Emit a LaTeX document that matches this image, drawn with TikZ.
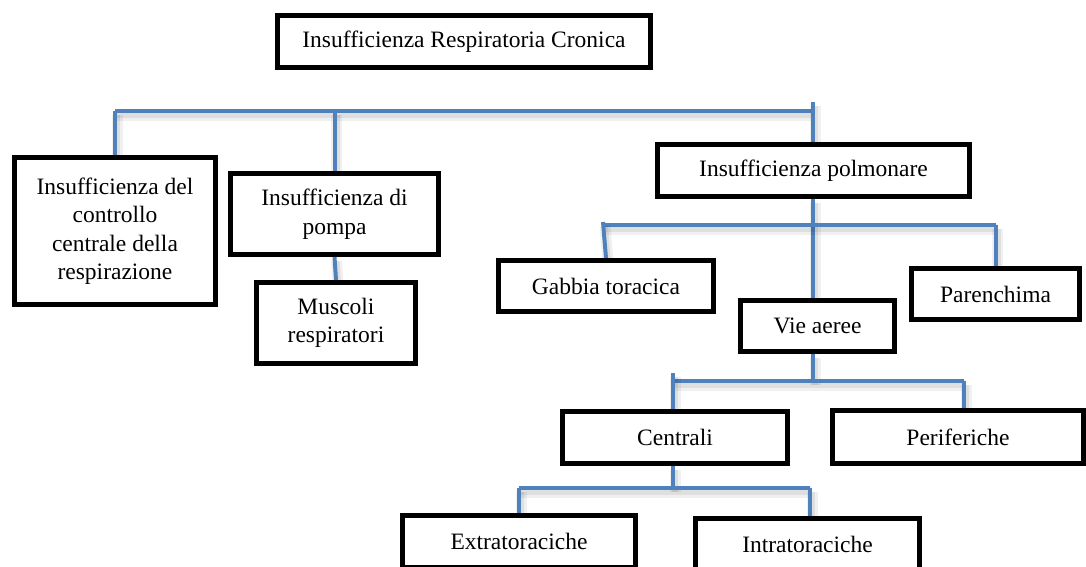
\documentclass[tikz,border=0pt]{standalone}
\usepackage{fontspec}
\setmainfont{Liberation Serif}
\usetikzlibrary{calc}
\definecolor{linkblue}{HTML}{4F81BD}
\pgfdeclarelayer{bg}
\pgfsetlayers{bg,main}
\begin{document}
\begin{tikzpicture}[x=1pt,y=1pt,
  box/.style={draw=black,line width=5pt,fill=white,inner sep=0pt,align=center,
    font=\fontsize{23.5}{28.5}\selectfont},
  link/.style={draw=linkblue,line width=4pt,
    preaction={draw=black,opacity=0.06,line width=11pt,transform canvas={shift={(2,-4)}}},
    preaction={draw=black,opacity=0.07,line width=6pt,transform canvas={shift={(2,-4)}}}}]
\useasboundingbox (0,0) rectangle (1086,-566);
% nodes
\node[box,minimum width=373,minimum height=52] (top) at (464,-41.5) {Insufficienza Respiratoria Cronica};
\node[box,minimum width=201,minimum height=147] (ctrl) at (115,-231) {Insufficienza del\\controllo\\centrale della\\respirazione};
\node[box,minimum width=208,minimum height=81] (pump) at (334.5,-214) {Insufficienza di\\pompa};
\node[box,minimum width=159,minimum height=81] (musc) at (336,-323) {Muscoli\\respiratori};
\node[box,minimum width=312,minimum height=52] (pol) at (813.5,-170.5) {Insufficienza polmonare};
\node[box,minimum width=215,minimum height=51] (gab) at (606,-286) {Gabbia toracica};
\node[box,minimum width=168,minimum height=51] (par) at (995.5,-294) {Parenchima};
\node[box,minimum width=154,minimum height=51] (vie) at (817.5,-326) {Vie aeree};
\node[box,minimum width=225,minimum height=52] (cen) at (675,-437.5) {Centrali};
\node[box,minimum width=251,minimum height=53] (per) at (958,-437) {Periferiche};
\node[box,minimum width=233,minimum height=52] (ext) at (519,-541.5) {Extratoraciche};
\node[box,minimum width=224,minimum height=52] (int) at (807.5,-544.5) {Intratoraciche};
% bus coordinates
\coordinate (b1) at (0,-111);
\coordinate (b2) at (0,-225);
\coordinate (b3) at (0,-381);
\coordinate (b4) at (0,-488);
\coordinate (tick1) at (813,-102);
\coordinate (tick3) at (673,-373);
\begin{pgfonlayer}{bg}
% level 1
\draw[link] ($(top.south)+(5,0)$) -- ($(top.south)+(5,0)$ |- b1);
\draw[link] (ctrl.north |- b1) -- (tick1 |- b1);
\draw[link] (ctrl.north |- b1) -- (ctrl.north);
\draw[link] (pump.north |- b1) -- (pump.north);
\draw[link] (tick1) -- (tick1 |- pol.north);
\draw[link] (pump.south) -- (musc.north);
% level 2
\draw[link] (tick1 |- pol.south) -- (tick1 |- vie.north);
\draw[link] ($(gab.north |- b2)+(-3,0)$) -- (par.north |- b2);
\draw[link] ($(gab.north |- b2)+(-3,3)$) -- (gab.north);
\draw[link] (par.north |- b2) -- (par.north);
% level 3
\draw[link] (tick1 |- vie.south) -- (tick1 |- b3);
\draw[link] (tick3 |- b3) -- ($(per.north |- b3)+(6,0)$);
\draw[link] (tick3) -- (tick3 |- cen.north);
\draw[link] ($(per.north |- b3)+(6,0)$) -- ($(per.north)+(6,0)$);
% level 4
\draw[link] (tick3 |- cen.south) -- (tick3 |- b4);
\draw[link] (ext.north |- b4) -- ($(int.north |- b4)+(2.5,0)$);
\draw[link] (ext.north |- b4) -- (ext.north);
\draw[link] ($(int.north |- b4)+(2.5,0)$) -- ($(int.north)+(2.5,0)$);
\end{pgfonlayer}
\end{tikzpicture}
\end{document}
